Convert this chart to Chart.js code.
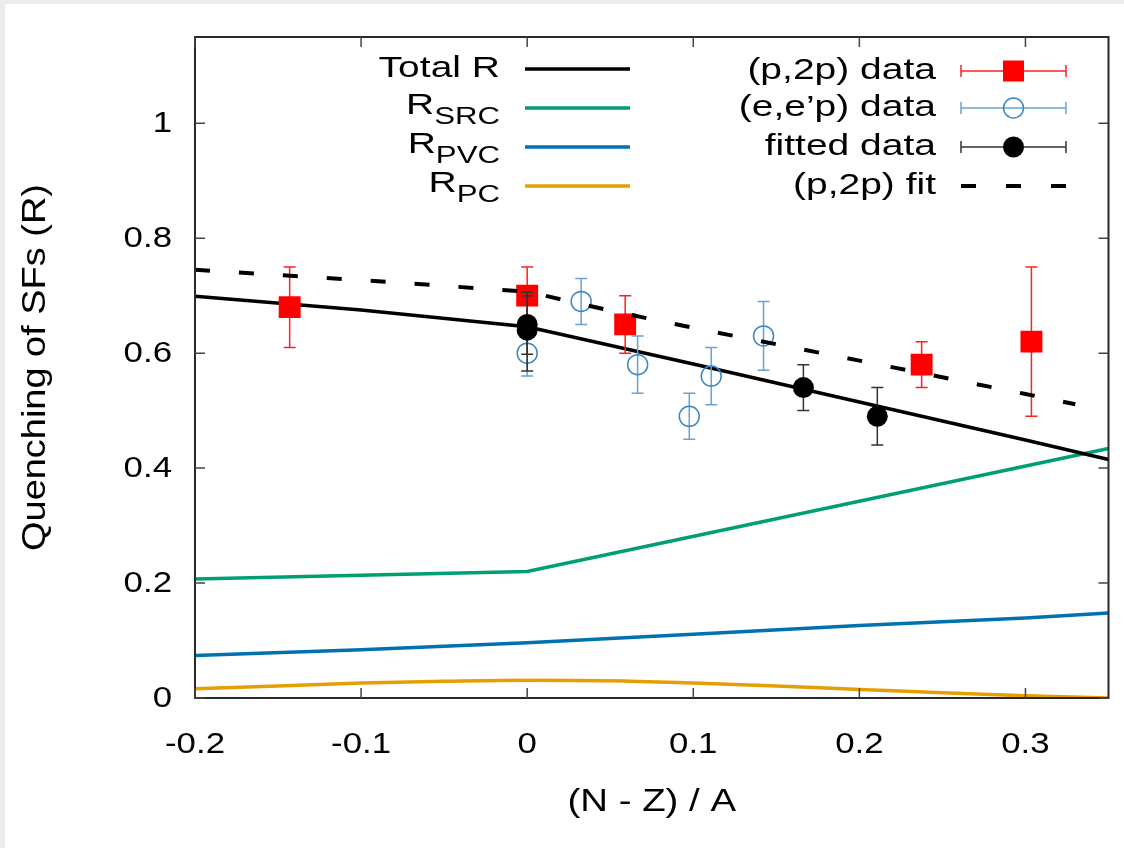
<!DOCTYPE html>
<html>
<head>
<meta charset="utf-8">
<script src="https://cdn.jsdelivr.net/npm/chart.js@4"></script>
<style>
  html, body { margin: 0; padding: 0; background: #ececec; }
  #wrap { position: absolute; left: 5px; top: 4px; width: 1119px; height: 844px; background: #fff; }
</style>
</head>
<body>
<div id="wrap"><canvas id="chart" width="1119" height="844"></canvas></div>
<script>
// axis ticks
const X_TICKS = [-0.2, -0.1, 0, 0.1, 0.2, 0.3];
const X_TICK_LABELS = ['-0.2', '-0.1', '0', '0.1', '0.2', '0.3'];
const Y_TICKS = [0, 0.2, 0.4, 0.6, 0.8, 1];
const Y_TICK_LABELS = ['0', '0.2', '0.4', '0.6', '0.8', '1'];

// model curves
const totalX = [-0.2, -0.1, 0, 0.1, 0.2, 0.3, 0.35];
const totalR = [0.699, 0.675, 0.646, 0.581, 0.515, 0.449, 0.415];
const srcX = [-0.2, 0, 0.35];
const srcR = [0.207, 0.220, 0.434];
const pvcX = [-0.2, -0.1, 0, 0.1, 0.2, 0.3, 0.35];
const pvcR = [0.074, 0.084, 0.096, 0.111, 0.126, 0.139, 0.148];
const pcX = [-0.2, -0.15, -0.1, -0.05, 0, 0.05, 0.1, 0.15, 0.2, 0.25, 0.3, 0.35];
const pcR = [0.016, 0.021, 0.026, 0.029, 0.031, 0.030, 0.026, 0.021, 0.015, 0.009, 0.004, 0.0];
const fitX = [-0.2, -0.1, 0, 0.05, 0.1, 0.2, 0.3, 0.33];
const fitR = [0.745, 0.727, 0.707, 0.674, 0.644, 0.587, 0.529, 0.511];

// (p,2p) data
const p2pX = [-0.143, 0, 0.059, 0.2375, 0.3036];
const p2pY = [0.68, 0.70, 0.65, 0.58, 0.62];
const p2pErrLo = [0.07, 0.05, 0.05, 0.04, 0.13];
const p2pErrHi = [0.07, 0.05, 0.05, 0.04, 0.13];
// (e,e'p) data
const eepX = [0, 0.0325, 0.0665, 0.0976, 0.1108, 0.1423];
const eepY = [0.60, 0.69, 0.58, 0.49, 0.56, 0.63];
const eepErr = [0.04, 0.04, 0.05, 0.04, 0.05, 0.06];
// fitted data
const fdX = [0, 0, 0.1663, 0.2108];
const fdY = [0.65, 0.64, 0.54, 0.49];
const fdErrLo = [0.052, 0.071, 0.04, 0.05];
const fdErrHi = [0.056, 0.06, 0.04, 0.05];

const FONT = '"Liberation Sans", Arial, sans-serif';
const SX = 1.2; // glyphs in the original are wide

const zip = (xs, ys) => xs.map((x, i) => ({ x, y: ys[i] }));

function drawText(ctx, text, x, y, size, align, sx) {
  ctx.save();
  ctx.font = `${size}px ${FONT}`;
  ctx.fillStyle = '#000';
  ctx.translate(x, y);
  ctx.scale(sx, 1);
  ctx.textAlign = align;
  ctx.textBaseline = 'middle';
  ctx.fillText(text, 0, 0);
  ctx.restore();
}

// R with a subscript, right-aligned at x
function drawSubText(ctx, main, sub, x, y, size, sx) {
  ctx.save();
  ctx.font = `${size}px ${FONT}`;
  const w1 = ctx.measureText(main).width * sx;
  ctx.font = `${size * 0.8}px ${FONT}`;
  const w2 = ctx.measureText(sub).width * sx;
  ctx.restore();
  const start = x - w1 - w2;
  drawText(ctx, main, start, y - 2, size, 'left', sx);
  drawText(ctx, sub, start + w1, y + 9, size * 0.8, 'left', sx);
}

const errorBars = {
  id: 'errorBars',
  beforeDatasetDraw(chart, args) {
    const ds = chart.data.datasets[args.index];
    if (!ds.errLo) return;
    const { ctx, scales: { x, y } } = chart;
    ctx.save();
    ctx.strokeStyle = ds.errColor;
    ctx.lineWidth = 1.5;
    ds.data.forEach((p, i) => {
      const px = x.getPixelForValue(p.x);
      const top = y.getPixelForValue(p.y + ds.errHi[i]);
      const bot = y.getPixelForValue(p.y - ds.errLo[i]);
      ctx.beginPath();
      ctx.moveTo(px, top); ctx.lineTo(px, bot);
      ctx.moveTo(px - 6, top); ctx.lineTo(px + 6, top);
      ctx.moveTo(px - 6, bot); ctx.lineTo(px + 6, bot);
      ctx.stroke();
    });
    ctx.restore();
  },
};

const frameAndText = {
  id: 'frameAndText',
  afterDraw(chart) {
    const { ctx, chartArea: a, scales: { x, y } } = chart;
    ctx.save();
    ctx.strokeStyle = '#2a2a2a';
    ctx.lineWidth = 2;
    ctx.strokeRect(a.left, a.top, a.right - a.left, a.bottom - a.top);
    ctx.lineWidth = 1.5;
    ctx.strokeStyle = '#444';
    ctx.beginPath();
    X_TICKS.forEach((v) => {
      const px = x.getPixelForValue(v);
      ctx.moveTo(px, a.bottom); ctx.lineTo(px, a.bottom - 10);
      ctx.moveTo(px, a.top); ctx.lineTo(px, a.top + 10);
    });
    Y_TICKS.forEach((v) => {
      const py = y.getPixelForValue(v);
      ctx.moveTo(a.left, py); ctx.lineTo(a.left + 10, py);
      ctx.moveTo(a.right, py); ctx.lineTo(a.right - 10, py);
    });
    ctx.stroke();
    ctx.restore();

    // tick labels
    X_TICKS.forEach((v, i) => drawText(ctx, X_TICK_LABELS[i], x.getPixelForValue(v), a.bottom + 47, 29, 'center', SX));
    Y_TICKS.forEach((v, i) => drawText(ctx, Y_TICK_LABELS[i], a.left - 23, y.getPixelForValue(v) + 1, 29, 'right', SX));

    // axis titles
    drawText(ctx, '(N - Z) / A', (a.left + a.right) / 2, a.bottom + 104, 32, 'center', SX);
    ctx.save();
    ctx.translate(31, (a.top + a.bottom) / 2);
    ctx.rotate(-Math.PI / 2);
    drawText(ctx, 'Quenching of SFs (R)', 0, 0, 33, 'center', 1.15);
    ctx.restore();

    // legend, left column
    const lRows = [65, 104, 143, 182];
    drawText(ctx, 'Total R', 495, lRows[0], 30, 'right', 1.3);
    drawSubText(ctx, 'R', 'SRC', 495, lRows[1], 30, 1.3);
    drawSubText(ctx, 'R', 'PVC', 495, lRows[2], 30, 1.3);
    drawSubText(ctx, 'R', 'PC', 495, lRows[3], 30, 1.3);
    const lCols = ['#000', '#009e73', '#0072b2', '#e69f00'];
    ctx.save();
    ctx.lineWidth = 3.5;
    lRows.forEach((ry, i) => {
      ctx.strokeStyle = lCols[i];
      ctx.beginPath(); ctx.moveTo(520, ry); ctx.lineTo(625, ry); ctx.stroke();
    });
    ctx.restore();

    // legend, right column
    const rRows = [67, 104, 143, 182];
    drawText(ctx, '(p,2p) data', 931, rRows[0], 30, 'right', 1.3);
    drawText(ctx, '(e,e\u2019p) data', 931, rRows[1], 30, 'right', 1.3);
    drawText(ctx, 'fitted data', 931, rRows[2], 30, 'right', 1.3);
    drawText(ctx, '(p,2p) fit', 931, rRows[3], 30, 'right', 1.3);
    const x0 = 956; const x1 = 1061; const xm = (x0 + x1) / 2;
    const barCols = ['#ff2020', '#6aa2d4', '#333'];
    ctx.save();
    ctx.lineWidth = 1.5;
    barCols.forEach((c, i) => {
      const ry = rRows[i];
      ctx.strokeStyle = c;
      ctx.beginPath();
      ctx.moveTo(x0, ry); ctx.lineTo(x1, ry);
      ctx.moveTo(x0, ry - 6); ctx.lineTo(x0, ry + 6);
      ctx.moveTo(x1, ry - 6); ctx.lineTo(x1, ry + 6);
      ctx.stroke();
    });
    ctx.fillStyle = '#ff0000';
    ctx.fillRect(xm - 10.5, rRows[0] - 10.5, 21, 21);
    ctx.strokeStyle = '#3b87c6';
    ctx.beginPath(); ctx.arc(xm, rRows[1], 10, 0, Math.PI * 2); ctx.stroke();
    ctx.fillStyle = '#000';
    ctx.beginPath(); ctx.arc(xm, rRows[2], 10.5, 0, Math.PI * 2); ctx.fill();
    ctx.strokeStyle = '#000';
    ctx.lineWidth = 4;
    ctx.setLineDash([15, 30]);
    ctx.beginPath(); ctx.moveTo(x0, rRows[3]); ctx.lineTo(x1, rRows[3]); ctx.stroke();
    ctx.restore();
  },
};

const lineDs = (xs, ys, color, order, extra) => ({
  data: zip(xs, ys),
  showLine: true,
  borderColor: color,
  borderWidth: 3.5,
  pointRadius: 0,
  fill: false,
  order,
  ...extra,
});

// eslint-disable-next-line no-undef
new Chart(document.getElementById('chart'), {
  type: 'scatter',
  data: {
    datasets: [
      lineDs(fitX, fitR, '#000', 0, { borderWidth: 4, borderDash: [15, 29] }),
      {
        data: zip(fdX, fdY),
        pointStyle: 'circle', pointRadius: 10.5, backgroundColor: '#000', borderWidth: 0,
        errLo: fdErrLo, errHi: fdErrHi, errColor: '#333', order: 1,
      },
      {
        data: zip(eepX, eepY),
        pointStyle: 'circle', pointRadius: 10, backgroundColor: 'rgba(0,0,0,0)', borderColor: '#3b87c6', borderWidth: 1.5,
        errLo: eepErr, errHi: eepErr, errColor: '#6aa2d4', order: 2,
      },
      {
        data: zip(p2pX, p2pY),
        pointStyle: 'rect', pointRadius: 15.5, backgroundColor: '#ff0000', borderWidth: 0,
        errLo: p2pErrLo, errHi: p2pErrHi, errColor: '#ff2020', order: 3,
      },
      lineDs(totalX, totalR, '#000', 4),
      lineDs(srcX, srcR, '#009e73', 5),
      lineDs(pvcX, pvcR, '#0072b2', 6),
      lineDs(pcX, pcR, '#e69f00', 7, { tension: 0.4, cubicInterpolationMode: 'monotone' }),
    ],
  },
  plugins: [errorBars, frameAndText],
  options: {
    responsive: false,
    animation: false,
    devicePixelRatio: 1,
    layout: { padding: { top: 33, right: 11, left: 0, bottom: 0 } },
    plugins: {
      legend: { display: false },
      tooltip: { enabled: false },
    },
    events: [],
    scales: {
      x: {
        type: 'linear',
        min: -0.2,
        max: 0.35,
        grid: { display: false },
        border: { display: false },
        ticks: { display: false },
        afterBuildTicks: (s) => { s.ticks = X_TICKS.map((v) => ({ value: v })); },
        afterFit: (s) => { s.height = 150; },
      },
      y: {
        type: 'linear',
        min: 0,
        max: 1.15,
        grid: { display: false },
        border: { display: false },
        ticks: { display: false },
        afterBuildTicks: (s) => { s.ticks = Y_TICKS.map((v) => ({ value: v })); },
        afterFit: (s) => { s.width = 190; },
      },
    },
  },
});
</script>
</body>
</html>
